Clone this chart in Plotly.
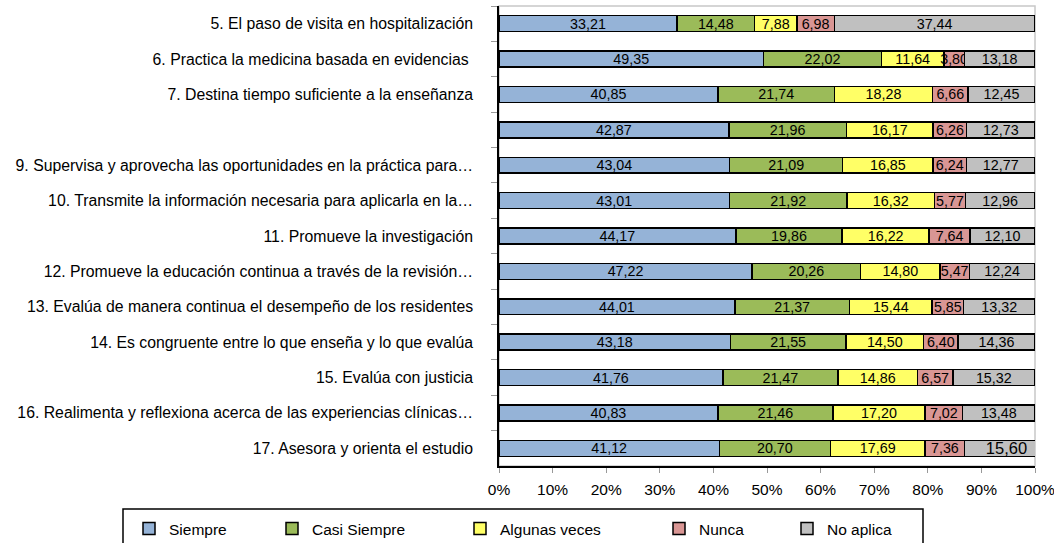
import plotly.graph_objects as go

categories = [
    "5. El paso de visita en hospitalización",
    "6. Practica la medicina basada en evidencias\u00a0",
    "7. Destina tiempo suficiente a la enseñanza",
    " ",
    "9. Supervisa y aprovecha las oportunidades en la práctica para…",
    "10. Transmite la información necesaria para aplicarla en la…",
    "11. Promueve la investigación",
    "12. Promueve la educación continua a través de la revisión…",
    "13. Evalúa de manera continua el desempeño de los residentes",
    "14. Es congruente entre lo que enseña y lo que evalúa",
    "15. Evalúa con justicia",
    "16. Realimenta y reflexiona acerca de las experiencias clínicas…",
    "17. Asesora y orienta el estudio",
]

siempre = [33.21, 49.35, 40.85, 42.87, 43.04, 43.01, 44.17, 47.22, 44.01, 43.18, 41.76, 40.83, 41.12]
casi_siempre = [14.48, 22.02, 21.74, 21.96, 21.09, 21.92, 19.86, 20.26, 21.37, 21.55, 21.47, 21.46, 20.70]
algunas_veces = [7.88, 11.64, 18.28, 16.17, 16.85, 16.32, 16.22, 14.80, 15.44, 14.50, 14.86, 17.20, 17.69]
nunca = [6.98, 3.80, 6.66, 6.26, 6.24, 5.77, 7.64, 5.47, 5.85, 6.40, 6.57, 7.02, 7.36]
no_aplica = [37.44, 13.18, 12.45, 12.73, 12.77, 12.96, 12.10, 12.24, 13.32, 14.36, 15.32, 13.48, 15.60]

series_names = ["Siempre", "Casi Siempre", "Algunas veces", "Nunca", "No aplica"]
series_values = [siempre, casi_siempre, algunas_veces, nunca, no_aplica]
series_colors = ["#95B3D7", "#9BBB59", "#FFFF66", "#D99694", "#C0C0C0"]
x_ticks = list(range(0, 101, 10))

FONT = "Liberation Sans, Arial, Helvetica, sans-serif"
W, H = 1054, 543
L, R, T, B = 499, 19, 6, 77

# legend text start positions (px) for each entry
legend_text_x = [167, 310, 498, 697, 825]
legend_ids = ["legend", "legend2", "legend3", "legend4", "legend5"]

fig = go.Figure()
for i, (name, vals, col) in enumerate(zip(series_names, series_values, series_colors)):
    sizes = [14.3] * len(vals)
    if name == "No aplica":
        sizes[-1] = 16.5
    fig.add_trace(go.Bar(
        y=categories,
        x=vals,
        name=name,
        orientation="h",
        marker=dict(color=col, line=dict(color="#000000", width=1.5)),
        text=[f"{v:.2f}".replace(".", ",") for v in vals],
        textposition="inside",
        insidetextanchor="middle",
        constraintext="none",
        textfont=dict(family=FONT, size=sizes, color="#000000"),
        legend=legend_ids[i],
    ))

layout_kwargs = dict(
    width=W, height=H,
    barmode="stack",
    bargap=0.55,
    margin=dict(l=L, r=R, t=T, b=B, autoexpand=False),
    paper_bgcolor="white",
    plot_bgcolor="white",
    font=dict(family=FONT, size=15.8, color="#000000"),
    showlegend=True,
    xaxis=dict(
        range=[0, 100],
        tickvals=x_ticks,
        ticktext=[f"{v}%" for v in x_ticks],
        ticks="outside", ticklen=5, tickcolor="#999999", tickwidth=1,
        showline=True, linecolor="#000000", linewidth=1.5,
        showgrid=False, zeroline=False,
        ticklabelstandoff=4,
        ticklabeloverflow="allow",
        automargin=False,
        tickfont=dict(size=15.5),
    ),
    yaxis=dict(
        type="category",
        categoryorder="array",
        categoryarray=categories,
        autorange="reversed",
        tickson="boundaries",
        ticks="outside", ticklen=6, tickcolor="#999999", tickwidth=1,
        showline=True, linecolor="#000000", linewidth=1.5,
        showgrid=False, zeroline=False,
        ticklabelstandoff=21,
        automargin=False,
        tickfont=dict(size=15.8),
    ),
    shapes=[
        dict(type="rect", xref="paper", yref="paper", x0=0, x1=1, y0=0, y1=1,
             line=dict(color="#C8C8C8", width=1.5), layer="below"),
        dict(type="rect", xref="paper", yref="paper",
             x0=(123 - L) / (W - L - R), x1=(923 - L) / (W - L - R),
             y0=(H - B - 509) / (H - B - T), y1=(H - B - 570) / (H - B - T),
             line=dict(color="#000000", width=1.5), fillcolor="rgba(0,0,0,0)"),
    ],
)

for lid, tx in zip(legend_ids, legend_text_x):
    layout_kwargs[lid] = dict(
        xref="container", yref="container",
        x=(tx - 38) / W, y=(H - 529) / H,
        xanchor="left", yanchor="middle",
        orientation="h",
        bgcolor="rgba(0,0,0,0)", borderwidth=0,
        font=dict(family=FONT, size=15.5, color="#000000"),
    )

fig.update_layout(**layout_kwargs)
fig.write_html(
    "out.html",
    config={"displayModeBar": False},
    post_script="document.body.style.margin='0';document.body.style.padding='0';",
)
